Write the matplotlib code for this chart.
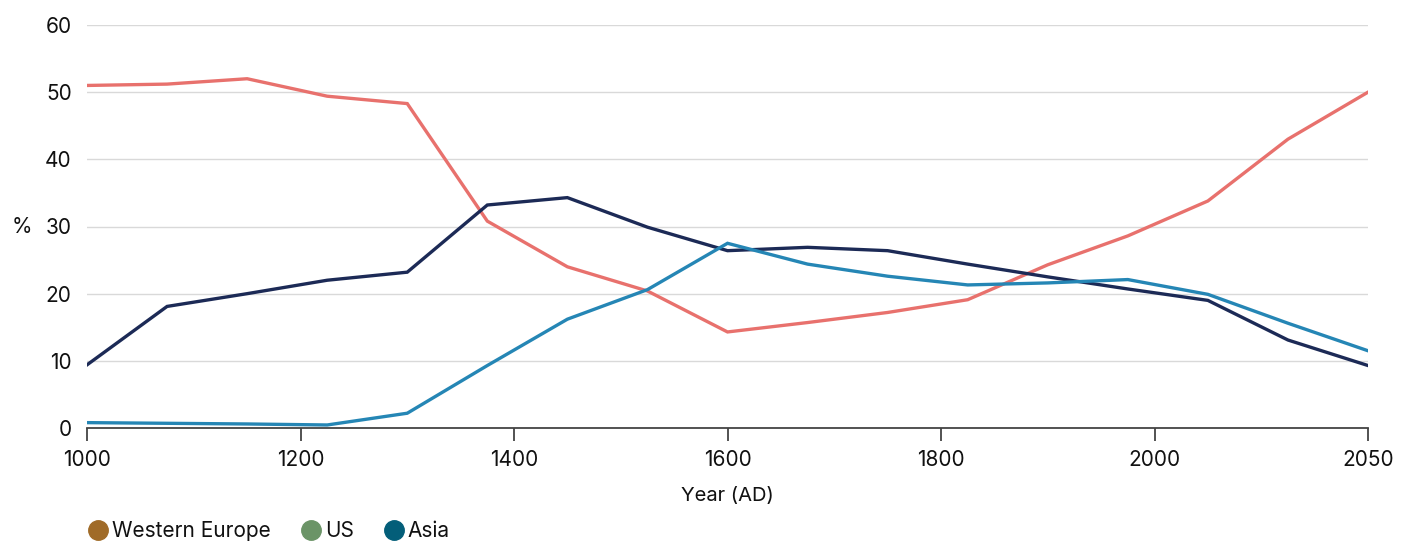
import matplotlib
matplotlib.use("Agg")
import matplotlib.pyplot as plt
from matplotlib.lines import Line2D
import numpy as np

plt.rcParams['font.family'] = ['Inter', 'DejaVu Sans']

# 17 evenly spaced observations
points = list(range(17))
red_series = [51.0, 51.2, 52.0, 49.4, 48.3, 30.8, 24.0, 20.4, 14.3, 15.7, 17.2, 19.1, 24.3, 28.6, 33.8, 43.0, 50.0]
navy_series = [9.4, 18.1, 20.0, 22.0, 23.2, 33.2, 34.3, 29.9, 26.4, 26.9, 26.4, 24.4, 22.5, 20.7, 19.0, 13.1, 9.3]
blue_series = [0.8, 0.7, 0.6, 0.45, 2.2, 9.3, 16.2, 20.6, 27.5, 24.4, 22.6, 21.3, 21.6, 22.1, 19.9, 15.6, 11.5]

tick_labels = ['1000', '1200', '1400', '1600', '1800', '2000', '2050']
y_ticks = [0, 10, 20, 30, 40, 50, 60]

legend_names = ['Western Europe', 'US', 'Asia']
legend_colors = ['#A06B28', '#6B9467', '#035E79']

fig = plt.figure(figsize=(14.09, 5.47), dpi=100)
ax = fig.add_axes([87/1409, 1 - 428/547, (1368-87)/1409, (428-25)/547])

ax.plot(points, red_series, color='#E8716D', lw=2.4, solid_joinstyle='miter', zorder=3)
ax.plot(points, navy_series, color='#1C2A56', lw=2.4, solid_joinstyle='miter', zorder=3)
ax.plot(points, blue_series, color='#2586B5', lw=2.4, solid_joinstyle='miter', zorder=3)

ax.set_xlim(0, 16)
ax.set_ylim(0, 60)
ax.set_xticks(np.linspace(0, 16, len(tick_labels)))
ax.set_xticklabels(tick_labels, fontsize=15, color='#111111')
ax.set_yticks(y_ticks)
ax.set_yticklabels([str(v) for v in y_ticks], fontsize=15, color='#111111')
ax.tick_params(axis='y', length=0, pad=11)
ax.tick_params(axis='x', length=9, width=1.3, color='#444444', pad=7, direction='out')
ax.grid(axis='y', color='#d9d9d9', lw=1.0, zorder=0)
ax.set_axisbelow(True)
for s in ['left', 'right', 'top']:
    ax.spines[s].set_visible(False)
ax.spines['bottom'].set_color('#444444')
ax.spines['bottom'].set_linewidth(1.3)
ax.spines['bottom'].set_zorder(4)

ax.set_xlabel('Year (AD)', fontsize=14.5, color='#111111', labelpad=12)
fig.text(22/1409, 1 - 227/547, '%', fontsize=15, color='#111111', ha='center', va='center')

handles = [Line2D([0], [0], marker='o', color='none', markerfacecolor=c, markeredgecolor=c,
                  markersize=14) for c in legend_colors]
fig.legend(handles, legend_names, loc='center left', bbox_to_anchor=(64/1409, 1 - 531/547),
           ncol=3, frameon=False, fontsize=15, handletextpad=-0.1, columnspacing=1.2,
           handlelength=1.5, labelcolor='#111111')

fig.savefig('out.png', dpi=100)
